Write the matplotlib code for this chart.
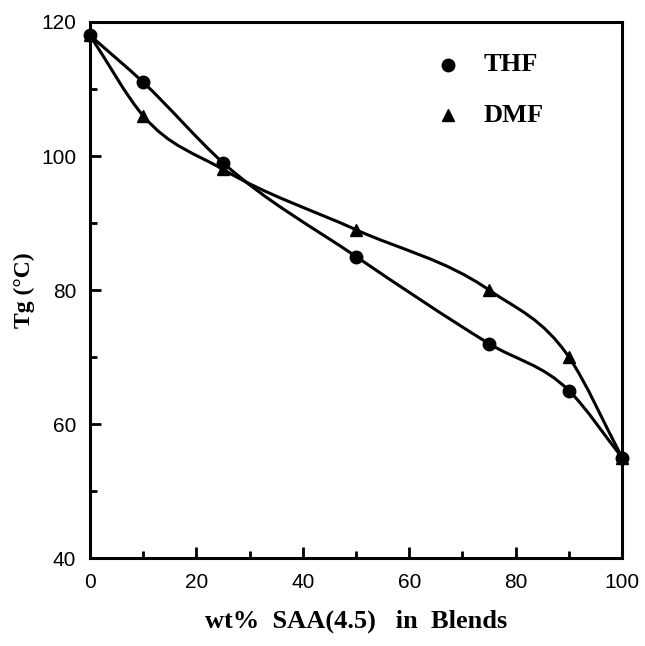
import matplotlib
matplotlib.use("Agg")
import matplotlib.pyplot as plt
from matplotlib.path import Path
from matplotlib.patches import PathPatch
from matplotlib.ticker import MultipleLocator
import numpy as np

wt_pct = [0, 10, 25, 50, 75, 90, 100]
tg_thf = [118, 111, 99, 85, 72, 65, 55]
tg_dmf = [118, 106, 98, 89, 80, 70, 55]

SERIF = ["Liberation Serif", "DejaVu Serif"]
SANS = ["Liberation Sans", "DejaVu Sans"]


def smooth_path(x, y):
    # cubic Hermite through the points (three-point slopes), as Bezier segments
    x = np.asarray(x, float)
    y = np.asarray(y, float)
    h = np.diff(x)
    d = np.diff(y) / h
    m = np.empty_like(y)
    m[0], m[-1] = d[0], d[-1]
    m[1:-1] = (d[:-1] * h[1:] + d[1:] * h[:-1]) / (h[:-1] + h[1:])
    verts = [(x[0], y[0])]
    codes = [Path.MOVETO]
    for i in range(len(x) - 1):
        t = h[i] / 3.0
        verts += [(x[i] + t, y[i] + m[i] * t),
                  (x[i + 1] - t, y[i + 1] - m[i + 1] * t),
                  (x[i + 1], y[i + 1])]
        codes += [Path.CURVE4] * 3
    return Path(verts, codes)


fig = plt.figure(figsize=(6.45, 6.46), dpi=100)
ax = fig.add_axes([0.1395, 0.136, 0.825, 0.830])

for ys in (tg_thf, tg_dmf):
    ax.add_patch(PathPatch(smooth_path(wt_pct, ys), fill=False, lw=2.2, color="black"))

ax.plot(wt_pct, tg_thf, "o", color="black", ms=9, clip_on=False, zorder=5)
ax.plot(wt_pct, tg_dmf, "^", color="black", ms=9, clip_on=False, zorder=5)

ax.set_xlim(0, 100)
ax.set_ylim(40, 120)
ax.xaxis.set_major_locator(MultipleLocator(20))
ax.xaxis.set_minor_locator(MultipleLocator(10))
ax.yaxis.set_major_locator(MultipleLocator(20))
ax.yaxis.set_minor_locator(MultipleLocator(10))
ax.tick_params(which="both", direction="in", top=False, right=False, width=2)
ax.tick_params(which="major", length=8, labelsize=15)
ax.tick_params(which="minor", length=5)
ax.tick_params(axis="x", pad=11)
ax.tick_params(axis="y", pad=10)
for lbl in ax.get_xticklabels() + ax.get_yticklabels():
    lbl.set_family(SANS)
for sp in ax.spines.values():
    sp.set_linewidth(2.2)

ax.set_xlabel("wt%  SAA(4.5)   in  Blends", family=SERIF, fontweight="bold",
              fontsize=19)
ax.set_ylabel("Tg (°C)", family=SERIF, fontweight="bold", fontsize=17)
ax.xaxis.set_label_coords(0.5, -0.095)
ax.yaxis.set_label_coords(-0.103, 0.5)

# legend entries
ax.plot([67.3], [113.6], "o", color="black", ms=9)
ax.plot([67.3], [106.1], "^", color="black", ms=9)
ax.text(73.9, 113.6, "THF", family=SERIF, fontweight="bold", fontsize=19, va="center")
ax.text(73.9, 106.1, "DMF", family=SERIF, fontweight="bold", fontsize=19, va="center")

fig.savefig("out.png", dpi=100)
